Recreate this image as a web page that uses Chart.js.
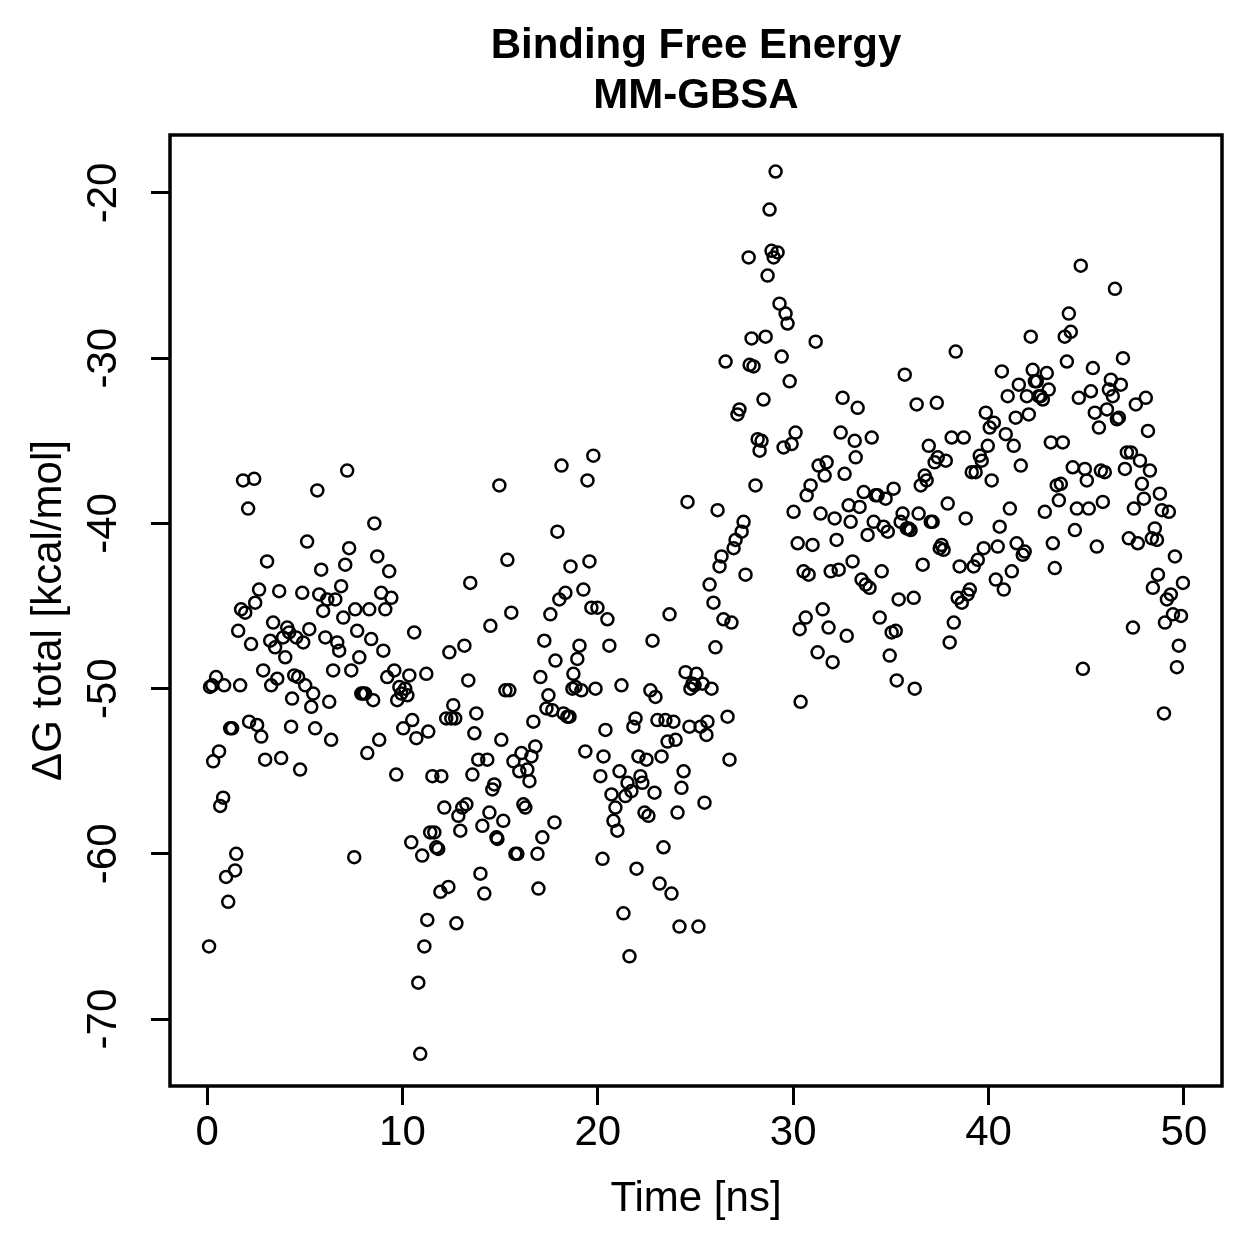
<!DOCTYPE html>
<html><head><meta charset="utf-8">
<script src="https://cdn.jsdelivr.net/npm/chart.js@4"></script>
<style>html,body{margin:0;padding:0;background:#fff}canvas{display:block}</style>
</head><body>
<canvas id="c" width="1259" height="1259" style="width:1259px;height:1259px"></canvas>
<script>
const timeNs = [
0.10,0.15,0.26,0.31,0.46,0.61,0.67,0.82,0.87,0.97,1.08,1.18,1.28,1.43,1.49,1.59,1.69,1.74,1.84,1.95,
2.10,2.15,2.25,2.41,2.46,2.56,2.66,2.77,2.87,2.97,3.07,3.23,3.28,3.38,3.48,3.59,3.69,3.79,3.89,4.00,
4.10,4.20,4.30,4.35,4.46,4.56,4.66,4.76,4.87,4.92,5.02,5.12,5.23,5.33,5.43,5.53,5.64,5.74,5.84,5.94,
6.05,6.15,6.25,6.35,6.45,6.56,6.66,6.76,6.86,6.97,7.07,7.17,7.27,7.38,7.53,7.58,7.68,7.79,7.89,7.99,
8.09,8.20,8.30,8.40,8.50,8.56,8.71,8.81,8.91,9.02,9.12,9.22,9.32,9.43,9.58,9.68,9.73,9.84,9.94,10.04,
10.14,10.25,10.35,10.45,10.50,10.60,10.71,10.81,10.91,11.01,11.12,11.22,11.27,11.32,11.42,11.53,11.63,11.73,11.83,11.94,
11.99,12.14,12.24,12.35,12.40,12.50,12.60,12.70,12.76,12.86,12.96,13.06,13.17,13.27,13.37,13.47,13.58,13.68,13.78,13.88,
13.99,14.09,14.19,14.34,14.45,14.50,14.60,14.70,14.81,14.86,14.96,15.06,15.16,15.27,15.37,15.47,15.57,15.68,15.78,15.88,
15.98,16.09,16.19,16.29,16.39,16.50,16.60,16.70,16.80,16.91,16.96,17.06,17.16,17.26,17.37,17.47,17.57,17.67,17.78,17.83,
17.93,18.03,18.14,18.24,18.34,18.44,18.55,18.60,18.70,18.75,18.85,18.95,19.06,19.16,19.26,19.36,19.47,19.57,19.67,19.77,
19.88,19.98,20.13,20.24,20.29,20.39,20.49,20.59,20.70,20.80,20.90,21.00,21.11,21.21,21.31,21.41,21.52,21.62,21.72,21.82,
21.93,21.98,22.08,22.18,22.28,22.39,22.49,22.59,22.69,22.80,22.90,22.95,23.05,23.16,23.26,23.36,23.46,23.57,23.67,23.77,
23.87,23.98,24.08,24.18,24.28,24.39,24.49,24.59,24.69,24.74,24.85,24.95,25.05,25.15,25.26,25.36,25.46,25.56,25.61,25.72,
25.82,25.92,26.02,26.13,26.23,26.33,26.43,26.54,26.64,26.74,26.84,26.95,27.05,27.15,27.25,27.36,27.46,27.56,27.72,27.77,
27.87,27.97,28.07,28.18,28.28,28.38,28.48,28.59,28.69,28.79,28.89,29.00,29.10,29.20,29.30,29.41,29.51,29.61,29.71,29.82,
29.92,30.02,30.12,30.23,30.33,30.38,30.53,30.64,30.69,30.79,30.89,30.99,31.15,31.25,31.30,31.40,31.51,31.61,31.71,31.81,
31.92,32.02,32.12,32.22,32.33,32.43,32.53,32.63,32.74,32.84,32.94,33.04,33.15,33.20,33.30,33.40,33.50,33.61,33.71,33.81,
33.91,34.02,34.12,34.22,34.32,34.43,34.53,34.63,34.73,34.84,34.94,35.04,35.14,35.25,35.30,35.40,35.50,35.60,35.71,35.81,
35.91,36.01,36.17,36.22,36.32,36.42,36.53,36.63,36.73,36.83,36.94,37.04,37.14,37.24,37.35,37.40,37.50,37.60,37.70,37.81,
37.91,38.01,38.11,38.22,38.32,38.42,38.52,38.63,38.73,38.83,38.93,39.04,39.14,39.24,39.34,39.45,39.55,39.65,39.75,39.86,
39.96,40.06,40.16,40.27,40.37,40.47,40.57,40.68,40.78,40.88,40.98,41.09,41.19,41.29,41.39,41.44,41.55,41.65,41.75,41.85,
41.96,42.06,42.16,42.26,42.37,42.47,42.57,42.67,42.78,42.88,42.98,43.08,43.19,43.29,43.39,43.49,43.60,43.70,43.80,43.90,
44.01,44.11,44.21,44.31,44.42,44.52,44.62,44.72,44.83,44.93,45.03,45.13,45.24,45.34,45.44,45.54,45.65,45.75,45.85,45.95,
46.06,46.16,46.26,46.36,46.47,46.57,46.67,46.77,46.88,46.98,47.08,47.18,47.29,47.39,47.44,47.54,47.64,47.75,47.85,47.95,
48.05,48.16,48.26,48.36,48.41,48.51,48.62,48.67,48.77,48.87,48.98,49.03,49.13,49.23,49.33,49.44,49.54,49.64,49.74,49.85,
49.95
];
const deltaG = [
-65.6,-49.9,-49.8,-54.4,-49.3,-53.8,-57.1,-56.6,-49.8,-61.4,-62.9,-52.4,-52.4,-61.0,-60.0,-46.5,-49.8,-45.2,-37.4,-45.4,
-39.1,-52.0,-47.3,-37.3,-44.8,-52.2,-44.0,-52.9,-48.9,-54.3,-42.3,-47.1,-49.8,-46.0,-47.5,-49.4,-44.1,-54.2,-46.9,-48.1,
-46.3,-46.6,-52.3,-50.6,-49.2,-46.9,-49.3,-54.9,-44.2,-47.2,-49.8,-41.1,-46.4,-51.1,-50.3,-52.4,-38.0,-44.3,-42.8,-45.3,
-46.9,-44.6,-50.8,-53.1,-48.9,-44.6,-47.2,-47.7,-43.8,-45.7,-42.5,-36.8,-41.5,-48.9,-60.2,-45.2,-46.5,-48.1,-50.3,-50.3,
-50.3,-53.9,-45.2,-47.0,-50.7,-40.0,-42.0,-53.1,-44.2,-47.7,-45.2,-49.3,-42.9,-44.5,-48.9,-55.2,-50.7,-49.9,-50.3,-52.4,
-50.0,-50.4,-49.2,-59.3,-51.9,-46.6,-53.0,-67.8,-72.1,-60.1,-65.6,-49.1,-64.0,-52.6,-58.7,-55.3,-58.7,-59.6,-59.7,-62.3,
-55.3,-57.2,-51.8,-62.0,-47.8,-51.8,-51.0,-51.8,-64.2,-57.7,-58.6,-57.2,-47.4,-57.0,-49.5,-43.6,-55.2,-52.7,-51.5,-54.3,
-61.2,-58.3,-62.4,-54.3,-57.5,-46.2,-56.1,-55.8,-59.0,-59.1,-37.7,-53.1,-58.0,-50.1,-42.2,-50.1,-45.4,-54.4,-60.0,-60.0,
-55.0,-53.9,-57.0,-57.2,-54.9,-55.6,-54.1,-52.0,-53.5,-60.0,-62.1,-49.3,-59.0,-47.1,-51.2,-50.4,-45.5,-51.3,-58.1,-48.3,
-40.5,-44.6,-36.5,-51.5,-44.2,-51.7,-51.7,-42.6,-50.0,-49.1,-49.9,-48.2,-47.4,-50.1,-44.0,-53.8,-37.4,-42.3,-45.1,-35.9,
-50.0,-45.1,-55.3,-60.3,-54.1,-52.5,-45.8,-47.4,-56.4,-58.0,-57.2,-58.6,-55.0,-49.8,-63.6,-56.5,-55.7,-66.2,-56.2,-52.3,
-51.8,-60.9,-54.1,-55.3,-55.7,-57.5,-54.3,-57.7,-50.1,-47.1,-56.3,-50.5,-51.9,-61.8,-54.1,-59.6,-51.9,-53.2,-45.5,-62.4,
-52.0,-53.1,-57.5,-64.4,-56.0,-55.0,-49.0,-38.7,-52.3,-50.0,-49.7,-49.8,-49.1,-64.4,-52.3,-49.7,-56.9,-52.8,-52.0,-43.7,
-50.0,-44.8,-47.5,-39.2,-42.6,-42.0,-45.8,-30.2,-51.7,-54.3,-46.0,-41.5,-41.0,-33.4,-33.1,-40.5,-39.9,-43.1,-23.9,-30.4,
-28.8,-30.5,-37.7,-34.9,-35.6,-35.0,-32.5,-28.7,-25.0,-21.0,-23.5,-23.9,-18.7,-23.6,-26.7,-29.9,-35.4,-27.3,-27.9,-31.4,
-35.2,-39.3,-34.5,-41.2,-46.4,-50.8,-42.9,-45.7,-38.3,-43.1,-37.7,-41.3,-29.0,-47.8,-36.5,-39.4,-45.2,-37.1,-36.3,-46.3,
-42.9,-48.4,-39.7,-41.0,-42.8,-34.5,-32.4,-37.0,-46.8,-38.9,-39.9,-42.3,-35.0,-36.0,-33.0,-39.0,-43.4,-38.1,-43.7,-40.7,
-43.9,-34.8,-39.9,-38.3,-38.3,-45.7,-42.9,-40.2,-38.5,-40.5,-48.0,-46.6,-37.9,-46.5,-49.5,-44.6,-39.9,-39.4,-31.0,-40.3,
-40.3,-40.4,-44.5,-50.0,-32.8,-39.4,-37.7,-42.5,-37.1,-37.4,-35.3,-39.9,-39.9,-36.3,-32.7,-36.0,-41.5,-41.3,-41.6,-36.2,
-38.8,-47.2,-34.8,-46.0,-29.6,-44.5,-42.6,-44.8,-34.8,-39.7,-44.3,-44.0,-36.9,-42.6,-36.9,-42.2,-35.9,-36.2,-41.5,-33.3,
-35.3,-34.2,-37.4,-33.9,-43.4,-41.4,-40.2,-30.8,-44.0,-34.6,-32.3,-39.1,-42.9,-35.3,-33.6,-41.2,-31.6,-36.5,-41.9,-41.7,
-32.3,-33.4,-28.7,-30.7,-31.4,-31.4,-32.3,-32.3,-32.5,-39.3,-30.9,-31.9,-35.1,-41.2,-42.7,-37.7,-38.6,-37.6,-35.1,-28.7,
-30.2,-27.3,-28.4,-36.6,-40.4,-39.1,-32.4,-24.4,-48.8,-36.7,-37.4,-39.1,-32.0,-30.6,-33.3,-41.4,-34.2,-36.8,-38.7,-36.9,
-33.1,-31.9,-31.3,-32.3,-25.8,-33.7,-33.6,-31.6,-30.0,-36.7,-35.7,-40.9,-35.7,-46.3,-39.1,-32.8,-41.2,-36.2,-37.6,-38.5,
-32.4,-34.4,-36.8,-40.9,-43.9,-40.3,-41.0,-43.1,-38.2,-39.2,-51.5,-46.0,-44.6,-39.3,-44.3,-45.5,-42.0,-48.7,-47.4,-45.6,
-43.6
];
const xTicks = [0, 10, 20, 30, 40, 50];
const yTicks = [-70, -60, -50, -40, -30, -20];
const titleLines = ['Binding Free Energy', 'MM-GBSA'];
const xTitle = 'Time [ns]';
const yTitle = '\u0394G total [kcal/mol]';

const FONT = "'Liberation Sans', Arial, Helvetica, sans-serif";

// Frame around the plot region and a main title centred over the plot region (as in R)
const framePlugin = {
  id: 'frame',
  afterDraw(chart) {
    const {ctx, chartArea: a} = chart;
    ctx.save();
    ctx.strokeStyle = '#000';
    ctx.lineWidth = 3.5;
    ctx.strokeRect(a.left, a.top, a.right - a.left, a.bottom - a.top);
    ctx.fillStyle = '#000';
    ctx.font = 'bold 42px ' + FONT;
    ctx.textAlign = 'center';
    ctx.textBaseline = 'middle';
    const cx = (a.left + a.right) / 2;
    titleLines.forEach((line, i) => ctx.fillText(line, cx, 46 + i * 50));
    ctx.restore();
  }
};

new Chart(document.getElementById('c'), {
  type: 'scatter',
  data: {
    datasets: [{
      label: 'ΔG total',
      data: timeNs.map((t, i) => ({x: t, y: deltaG[i]})),
      pointStyle: 'circle',
      pointRadius: 6,
      pointHoverRadius: 6,
      borderColor: '#000',
      backgroundColor: 'rgba(0,0,0,0)',
      borderWidth: 2.5,
      pointBorderWidth: 2.5
    }]
  },
  options: {
    responsive: false,
    animation: false,
    devicePixelRatio: 1,
    layout: {padding: {left: 0, right: 37, top: 135, bottom: 0}},
    plugins: {
      legend: {display: false},
      tooltip: {enabled: false},
      title: {display: false}
    },
    scales: {
      x: {
        type: 'linear',
        position: 'bottom',
        min: -1.9,
        max: 51.95,
        afterBuildTicks: s => { s.ticks = xTicks.map(v => ({value: v})); },
        afterFit: s => { s.height = 173; },
        border: {display: false},
        grid: {display: true, drawOnChartArea: false, drawTicks: true, tickLength: 19, color: '#000', lineWidth: 3},
        ticks: {color: '#000', font: {family: FONT, size: 42}, padding: 3, minRotation: 0, maxRotation: 0, callback: v => String(v)},
        title: {display: true, text: xTitle, color: '#000', font: {family: FONT, size: 42}, padding: {top: 0, bottom: 34}}
      },
      y: {
        type: 'linear',
        position: 'left',
        min: -74.05,
        max: -16.49,
        afterBuildTicks: s => { s.ticks = yTicks.map(v => ({value: v})); },
        afterFit: s => { s.width = 170; },
        border: {display: false},
        grid: {display: true, drawOnChartArea: false, drawTicks: true, tickLength: 19, color: '#000', lineWidth: 3},
        ticks: {color: '#000', font: {family: FONT, size: 42}, padding: 16, minRotation: 90, maxRotation: 90, crossAlign: 'center', callback: v => String(v)},
        title: {display: true, text: yTitle, color: '#000', font: {family: FONT, size: 42}, padding: {top: 24, bottom: 0}}
      }
    }
  },
  plugins: [framePlugin]
});
</script>
</body></html>
